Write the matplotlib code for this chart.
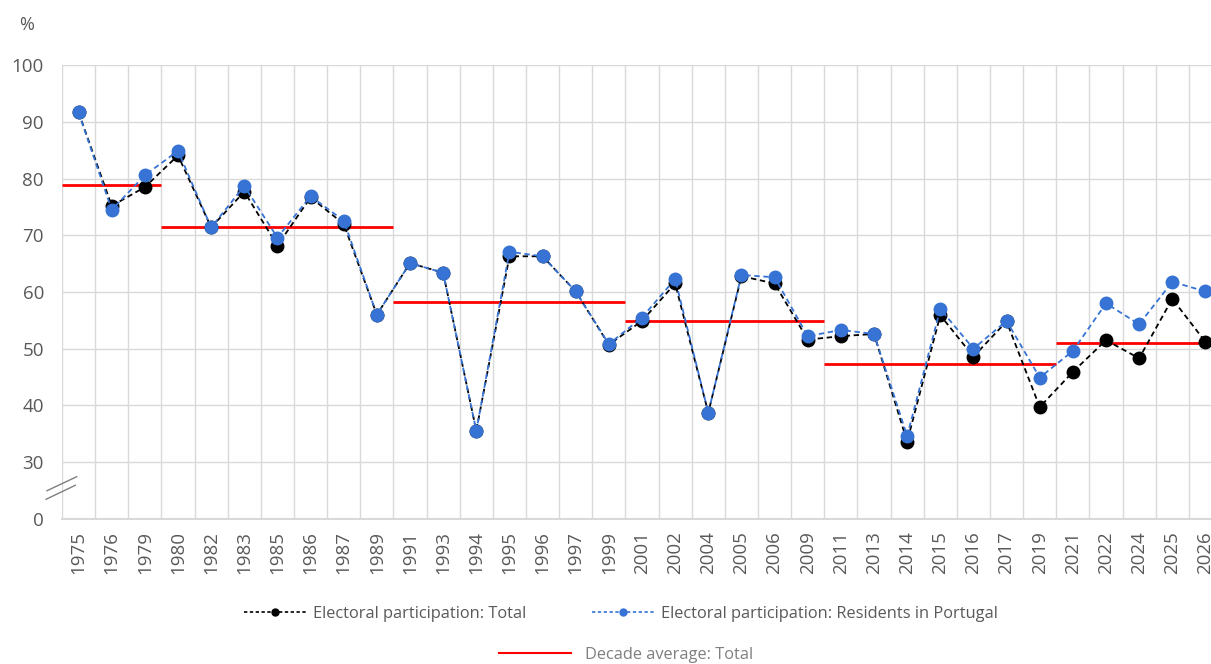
import matplotlib
matplotlib.use("Agg")
import matplotlib.pyplot as plt
from matplotlib.lines import Line2D

years = ["1975", "1976", "1979", "1980", "1982", "1983", "1985", "1986", "1987", "1989",
         "1991", "1993", "1994", "1995", "1996", "1997", "1999", "2001", "2002", "2004",
         "2005", "2006", "2009", "2011", "2013", "2014", "2015", "2016", "2017", "2019",
         "2021", "2022", "2024", "2025", "2026"]

total = [91.7, 75.2, 78.5, 84.1, 71.4, 77.7, 68.2, 76.7, 72.0, 56.0,
         65.1, 63.4, 35.5, 66.3, 66.3, 60.1, 50.7, 54.9, 61.5, 38.7,
         62.8, 61.5, 51.6, 52.2, 52.6, 33.6, 55.9, 48.6, 54.8, 39.7,
         45.9, 51.5, 48.3, 58.8, 51.2]

residents = [91.7, 74.5, 80.6, 84.9, 71.4, 78.7, 69.6, 76.9, 72.6, 56.0,
             65.1, 63.4, 35.5, 67.1, 66.3, 60.1, 50.8, 55.5, 62.3, 38.7,
             63.0, 62.6, 52.2, 53.3, 52.6, 34.6, 57.0, 50.0, 54.9, 44.9,
             49.6, 58.0, 54.3, 61.8, 60.1]

decade_first = ["1975", "1980", "1991", "2001", "2011", "2021"]
decade_last = ["1979", "1989", "1999", "2009", "2019", "2026"]
decade_avg = [78.9, 71.4, 58.2, 54.8, 47.3, 51.0]

ytick_values = [20, 30, 40, 50, 60, 70, 80, 90, 100]
ytick_labels = ["0", "30", "40", "50", "60", "70", "80", "90", "100"]

FONT = ["Open Sans", "DejaVu Sans"]
plt.rcParams["font.family"] = FONT
GREY = "#595959"
BLUE = "#3673d4"

W, H = 1211, 664
fig = plt.figure(figsize=(W / 100, H / 100), dpi=100)
ax = fig.add_axes([62 / W, 1 - 518.7 / H, (1222 - 62) / W, (518.7 - 65.3) / H])

x = list(range(len(years)))
ax.set_xlim(-0.5, len(years) - 0.5)
ax.set_ylim(20, 100)

# grid
for b in range(len(years) + 1):
    ax.axvline(b - 0.5, color="#d9d9d9", lw=1.0, zorder=0)
for v in ytick_values[1:]:
    ax.axhline(v, color="#d9d9d9", lw=1.0, zorder=0)

for s in ["top", "right", "left"]:
    ax.spines[s].set_visible(False)
ax.spines["bottom"].set_color("#d9d9d9")
ax.spines["bottom"].set_linewidth(1.5)

# decade averages
for f, l, v in zip(decade_first, decade_last, decade_avg):
    i0 = years.index(f) - 0.5
    i1 = years.index(l) + 0.5
    ax.plot([i0, i1], [v, v], color="#ff0000", lw=2.0, zorder=2, solid_capstyle="butt")

ax.plot(x, total, color="black", ls=(0, (3, 2)), lw=1.3, marker="o", ms=9,
        markerfacecolor="black", markeredgecolor="black", zorder=3)
ax.plot(x, residents, color=BLUE, ls=(0, (3, 2)), lw=1.3, marker="o", ms=9,
        markerfacecolor=BLUE, markeredgecolor=BLUE, zorder=4)

ax.set_xticks(x)
ax.set_xticklabels(years, rotation=90, fontsize=13.5, color=GREY)
ax.set_yticks(ytick_values)
ax.set_yticklabels(ytick_labels, fontsize=13.5, color=GREY)
ax.tick_params(axis="both", length=0)
ax.tick_params(axis="y", pad=13)
ax.tick_params(axis="x", pad=9)

# axis break marks (figure pixel coordinates)
for (x0, y0, x1, y1) in [(47, 490.7, 76.7, 476.7), (46, 499.3, 75.3, 485.3)]:
    fig.add_artist(Line2D([x0 / W, x1 / W], [1 - y0 / H, 1 - y1 / H],
                          color="#7f7f7f", lw=1.0, transform=fig.transFigure))

fig.text(27 / W, 1 - 25 / H, "%", fontsize=13, color=GREY, ha="center", va="center")

h1 = Line2D([], [], color="black", ls=(0, (2, 1.5)), lw=1.2, marker="o", ms=5)
h2 = Line2D([], [], color=BLUE, ls=(0, (2, 1.5)), lw=1.2, marker="o", ms=5)
h3 = Line2D([], [], color="#ff0000", lw=1.5)
fig.legend([h1, h2], ["Electoral participation: Total",
                      "Electoral participation: Residents in Portugal"],
           loc="center", bbox_to_anchor=(621 / W, 1 - 614 / H), ncol=2,
           frameon=False, fontsize=11.8, handlelength=3.8, columnspacing=4.0,
           labelcolor=GREY, handletextpad=0.4)
fig.legend([h3], ["Decade average: Total"], loc="center",
           bbox_to_anchor=(626 / W, 1 - 655 / H), frameon=False, fontsize=11.8,
           handlelength=4.4, labelcolor="#7f7f7f", handletextpad=0.9)

fig.savefig("out.png", dpi=100)
